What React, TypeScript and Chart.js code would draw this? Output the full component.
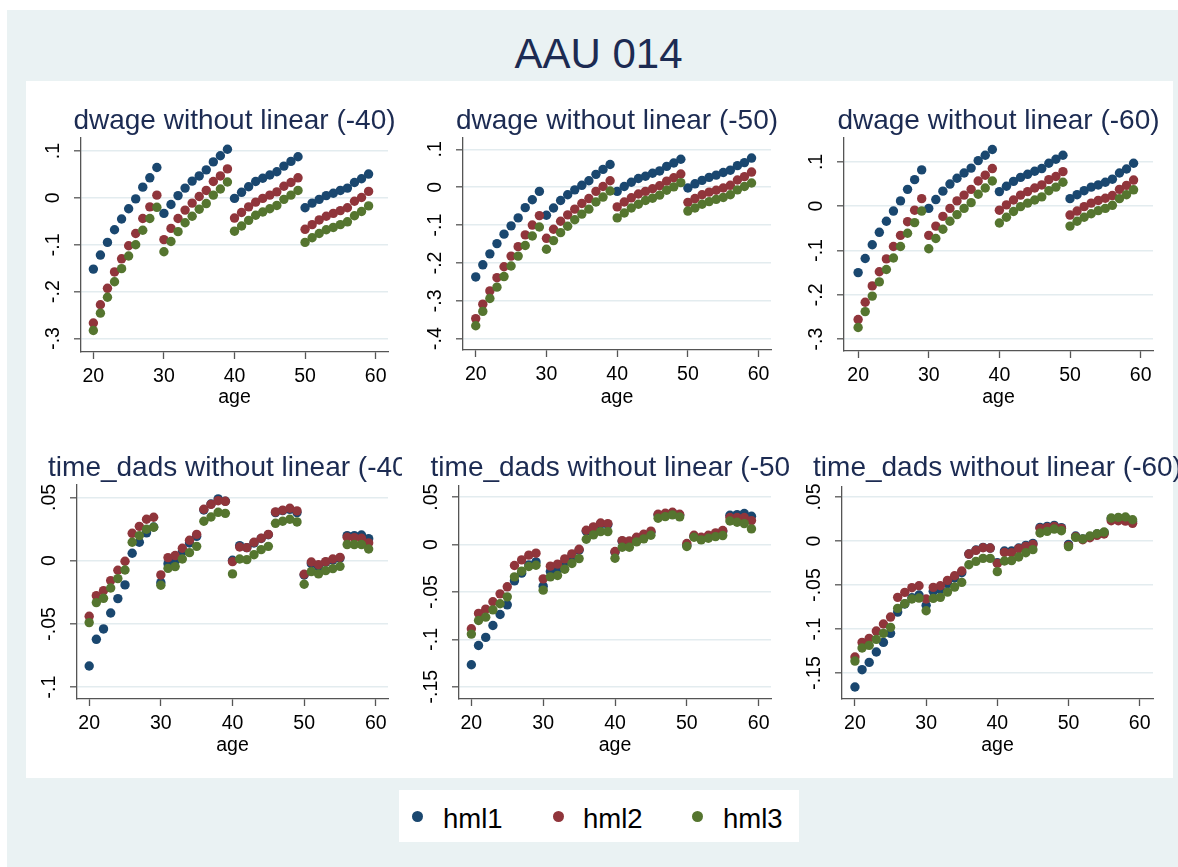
import React, { useEffect, useRef } from "react";
import { Chart, registerables } from "chart.js";

Chart.register(...registerables);

// ---------------- data ----------------
const ages = [20, 21, 22, 23, 24, 25, 26, 27, 28, 29, 30, 31, 32, 33, 34, 35, 36, 37, 38, 39, 40, 41, 42, 43, 44, 45, 46, 47, 48, 49, 50, 51, 52, 53, 54, 55, 56, 57, 58, 59];
const seriesNames = ["hml1", "hml2", "hml3"];
const xTicks = [20, 30, 40, 50, 60];

const dwage40_h1 = [-0.152, -0.122, -0.095, -0.068, -0.045, -0.023, -0.002, 0.023, 0.043, 0.065, -0.033, -0.014, 0.005, 0.021, 0.036, 0.047, 0.060, 0.077, 0.090, 0.104, -0.001, 0.012, 0.024, 0.035, 0.042, 0.049, 0.056, 0.068, 0.078, 0.088, -0.021, -0.011, -0.003, 0.005, 0.010, 0.016, 0.021, 0.033, 0.041, 0.051];
const dwage40_h2 = [-0.267, -0.228, -0.193, -0.158, -0.130, -0.102, -0.076, -0.044, -0.019, 0.006, -0.089, -0.065, -0.044, -0.026, -0.011, 0.003, 0.016, 0.035, 0.047, 0.062, -0.043, -0.031, -0.019, -0.009, -0.001, 0.006, 0.013, 0.025, 0.033, 0.043, -0.067, -0.057, -0.047, -0.039, -0.033, -0.027, -0.021, -0.007, 0.001, 0.014];
const dwage40_h3 = [-0.283, -0.246, -0.212, -0.179, -0.151, -0.124, -0.100, -0.069, -0.044, -0.020, -0.115, -0.093, -0.072, -0.053, -0.039, -0.024, -0.012, 0.006, 0.019, 0.034, -0.071, -0.060, -0.048, -0.037, -0.030, -0.023, -0.016, -0.003, 0.006, 0.016, -0.095, -0.085, -0.076, -0.068, -0.063, -0.057, -0.051, -0.038, -0.029, -0.017];

const dwage50_h1 = [-0.237, -0.205, -0.176, -0.149, -0.124, -0.102, -0.081, -0.054, -0.033, -0.011, -0.074, -0.055, -0.035, -0.020, -0.007, 0.005, 0.017, 0.034, 0.047, 0.060, -0.011, 0.002, 0.013, 0.023, 0.029, 0.037, 0.043, 0.055, 0.064, 0.074, -0.002, 0.009, 0.018, 0.026, 0.032, 0.039, 0.045, 0.057, 0.065, 0.077];
const dwage50_h2 = [-0.347, -0.309, -0.274, -0.239, -0.210, -0.182, -0.157, -0.126, -0.100, -0.075, -0.135, -0.111, -0.090, -0.073, -0.058, -0.043, -0.030, -0.011, 0.002, 0.017, -0.052, -0.039, -0.028, -0.018, -0.011, -0.004, 0.004, 0.016, 0.025, 0.035, -0.040, -0.030, -0.020, -0.013, -0.008, -0.002, 0.005, 0.019, 0.028, 0.040];
const dwage50_h3 = [-0.366, -0.328, -0.294, -0.264, -0.236, -0.208, -0.182, -0.154, -0.129, -0.105, -0.164, -0.141, -0.120, -0.103, -0.086, -0.071, -0.058, -0.039, -0.026, -0.010, -0.081, -0.068, -0.055, -0.045, -0.035, -0.029, -0.021, -0.008, 0.001, 0.012, -0.063, -0.055, -0.045, -0.038, -0.032, -0.027, -0.020, -0.007, 0.002, 0.011];

const dwage60_h1 = [-0.150, -0.118, -0.087, -0.059, -0.034, -0.011, 0.012, 0.038, 0.060, 0.082, -0.005, 0.015, 0.034, 0.050, 0.063, 0.075, 0.086, 0.103, 0.115, 0.128, 0.033, 0.045, 0.056, 0.065, 0.072, 0.079, 0.085, 0.097, 0.106, 0.115, 0.017, 0.026, 0.035, 0.043, 0.048, 0.054, 0.061, 0.075, 0.084, 0.097];
const dwage60_h2 = [-0.256, -0.217, -0.180, -0.148, -0.119, -0.091, -0.066, -0.035, -0.009, 0.017, -0.066, -0.045, -0.023, -0.005, 0.012, 0.025, 0.038, 0.057, 0.070, 0.085, -0.009, 0.003, 0.014, 0.025, 0.033, 0.041, 0.048, 0.060, 0.067, 0.078, -0.020, -0.011, -0.001, 0.007, 0.013, 0.018, 0.024, 0.038, 0.047, 0.059];
const dwage60_h3 = [-0.274, -0.238, -0.203, -0.171, -0.143, -0.117, -0.091, -0.061, -0.037, -0.011, -0.096, -0.073, -0.052, -0.034, -0.019, -0.005, 0.008, 0.027, 0.041, 0.057, -0.038, -0.025, -0.012, -0.001, 0.007, 0.014, 0.021, 0.035, 0.043, 0.054, -0.045, -0.034, -0.025, -0.017, -0.010, -0.005, 0.002, 0.017, 0.026, 0.037];

const time40_h1 = [-0.0833, -0.0622, -0.0540, -0.0414, -0.0300, -0.0192, 0.0058, 0.0145, 0.0220, 0.0266, -0.0174, -0.0024, -0.0003, 0.0071, 0.0140, 0.0192, 0.0400, 0.0448, 0.0488, 0.0470, 0.0003, 0.0119, 0.0103, 0.0140, 0.0175, 0.0205, 0.0380, 0.0395, 0.0405, 0.0380, -0.0113, -0.0024, -0.0047, -0.0013, 0.0005, 0.0020, 0.0198, 0.0198, 0.0203, 0.0174];
const time40_h2 = [-0.0440, -0.0277, -0.0237, -0.0158, -0.0076, -0.0005, 0.0216, 0.0271, 0.0327, 0.0343, -0.0113, 0.0024, 0.0040, 0.0098, 0.0161, 0.0208, 0.0406, 0.0445, 0.0474, 0.0469, -0.0008, 0.0108, 0.0103, 0.0145, 0.0177, 0.0208, 0.0385, 0.0398, 0.0414, 0.0393, -0.0108, -0.0011, -0.0032, -0.0008, 0.0013, 0.0026, 0.0185, 0.0182, 0.0177, 0.0140];
const time40_h3 = [-0.0490, -0.0332, -0.0298, -0.0216, -0.0142, -0.0074, 0.0145, 0.0198, 0.0248, 0.0264, -0.0195, -0.0061, -0.0047, 0.0013, 0.0063, 0.0113, 0.0311, 0.0345, 0.0382, 0.0374, -0.0105, 0.0013, 0.0008, 0.0047, 0.0087, 0.0113, 0.0295, 0.0311, 0.0327, 0.0306, -0.0187, -0.0087, -0.0105, -0.0079, -0.0063, -0.0045, 0.0127, 0.0127, 0.0127, 0.0092];

const time50_h1 = [-0.1268, -0.1065, -0.0980, -0.0854, -0.0738, -0.0636, -0.0383, -0.0302, -0.0214, -0.0183, -0.0439, -0.0285, -0.0267, -0.0183, -0.0119, -0.0060, 0.0141, 0.0179, 0.0218, 0.0211, -0.0081, 0.0035, 0.0028, 0.0067, 0.0098, 0.0130, 0.0313, 0.0323, 0.0334, 0.0309, -0.0011, 0.0088, 0.0063, 0.0081, 0.0109, 0.0137, 0.0309, 0.0316, 0.0327, 0.0299];
const time50_h2 = [-0.0889, -0.0727, -0.0682, -0.0604, -0.0520, -0.0446, -0.0221, -0.0162, -0.0112, -0.0091, -0.0362, -0.0228, -0.0207, -0.0151, -0.0098, -0.0049, 0.0151, 0.0186, 0.0228, 0.0221, -0.0074, 0.0042, 0.0039, 0.0077, 0.0109, 0.0141, 0.0320, 0.0330, 0.0341, 0.0320, 0.0011, 0.0098, 0.0077, 0.0098, 0.0123, 0.0148, 0.0285, 0.0285, 0.0285, 0.0253];
const time50_h3 = [-0.0945, -0.0801, -0.0766, -0.0689, -0.0625, -0.0552, -0.0341, -0.0281, -0.0232, -0.0218, -0.0481, -0.0341, -0.0327, -0.0260, -0.0200, -0.0148, 0.0056, 0.0102, 0.0137, 0.0137, -0.0144, -0.0028, -0.0028, 0.0028, 0.0060, 0.0098, 0.0278, 0.0295, 0.0313, 0.0292, -0.0021, 0.0077, 0.0049, 0.0067, 0.0084, 0.0095, 0.0249, 0.0235, 0.0221, 0.0165];

const time60_h1 = [-0.1659, -0.1462, -0.1379, -0.1261, -0.1152, -0.1049, -0.0807, -0.0716, -0.0644, -0.0614, -0.0731, -0.0572, -0.0553, -0.0485, -0.0420, -0.0360, -0.0148, -0.0102, -0.0072, -0.0080, -0.0246, -0.0114, -0.0114, -0.0080, -0.0049, -0.0027, 0.0155, 0.0167, 0.0178, 0.0152, -0.0038, 0.0057, 0.0023, 0.0049, 0.0080, 0.0095, 0.0254, 0.0258, 0.0265, 0.0223];
const time60_h2 = [-0.1318, -0.1152, -0.1106, -0.1023, -0.0943, -0.0864, -0.0640, -0.0583, -0.0530, -0.0508, -0.0659, -0.0527, -0.0508, -0.0447, -0.0394, -0.0341, -0.0148, -0.0106, -0.0076, -0.0080, -0.0254, -0.0129, -0.0133, -0.0087, -0.0061, -0.0038, 0.0144, 0.0155, 0.0167, 0.0144, -0.0053, 0.0049, 0.0015, 0.0038, 0.0064, 0.0080, 0.0231, 0.0231, 0.0227, 0.0201];
const time60_h3 = [-0.1364, -0.1216, -0.1186, -0.1117, -0.1049, -0.0981, -0.0765, -0.0712, -0.0659, -0.0648, -0.0792, -0.0652, -0.0640, -0.0580, -0.0523, -0.0470, -0.0269, -0.0231, -0.0197, -0.0197, -0.0348, -0.0227, -0.0223, -0.0182, -0.0133, -0.0098, 0.0091, 0.0110, 0.0136, 0.0117, -0.0064, 0.0042, 0.0023, 0.0057, 0.0083, 0.0102, 0.0261, 0.0269, 0.0273, 0.0242];

const dwageTicks = [0.1, 0, -0.1, -0.2, -0.3];
const dwageTickLabels = [".1", "0", "-.1", "-.2", "-.3"];
const dwage50Ticks = [0.1, 0, -0.1, -0.2, -0.3, -0.4];
const dwage50TickLabels = [".1", "0", "-.1", "-.2", "-.3", "-.4"];
const time40Ticks = [0.05, 0, -0.05, -0.1];
const time40TickLabels = [".05", "0", "-.05", "-.1"];
const timeTicks = [0.05, 0, -0.05, -0.1, -0.15];
const timeTickLabels = [".05", "0", "-.05", "-.1", "-.15"];

// ---------------- styling ----------------
const FONT = '"Liberation Sans", Arial, Helvetica, sans-serif';
const COLORS = ["#1a476f", "#90353b", "#55752f"];
const BG = "#eaf2f3";
const GRID = "#e3ecef";
const AXIS = "#555555";
const TITLE_COLOR = "#1c2b52";

const panels = [
  { title: "dwage without linear (-40)", series: [dwage40_h1, dwage40_h2, dwage40_h3], yTicks: dwageTicks, yLabels: dwageTickLabels, yMin: -0.329, yMax: 0.128, xMin: 18.25, xMax: 61.75, box: { x: 26, y: 81, w: 376, h: 349 }, plot: { l: 55, r: 14, t: 57, b: 78 }, titleY: 48 },
  { title: "dwage without linear (-50)", series: [dwage50_h1, dwage50_h2, dwage50_h3], yTicks: dwage50Ticks, yLabels: dwage50TickLabels, yMin: -0.43, yMax: 0.13, xMin: 18.2, xMax: 61.75, box: { x: 402, y: 81, w: 388, h: 349 }, plot: { l: 61, r: 19, t: 57, b: 80 }, titleY: 48 },
  { title: "dwage without linear (-60)", series: [dwage60_h1, dwage60_h2, dwage60_h3], yTicks: dwageTicks, yLabels: dwageTickLabels, yMin: -0.327, yMax: 0.154, xMin: 18.0, xMax: 61.75, box: { x: 790, y: 81, w: 388, h: 349 }, plot: { l: 54, r: 25, t: 57, b: 79 }, titleY: 48 },
  { title: "time_dads without linear (-40)", series: [time40_h1, time40_h2, time40_h3], yTicks: time40Ticks, yLabels: time40TickLabels, yMin: -0.1094, yMax: 0.0598, xMin: 18.3, xMax: 61.7, box: { x: 26, y: 430, w: 376, h: 348 }, plot: { l: 51, r: 14, t: 55, b: 79 }, titleY: 46 },
  { title: "time_dads without linear (-50)", series: [time50_h1, time50_h2, time50_h3], yTicks: timeTicks, yLabels: timeTickLabels, yMin: -0.163, yMax: 0.0618, xMin: 18.28, xMax: 61.72, box: { x: 402, y: 430, w: 388, h: 348 }, plot: { l: 57, r: 19, t: 56, b: 79 }, titleY: 46 },
  { title: "time_dads without linear (-60)", series: [time60_h1, time60_h2, time60_h3], yTicks: timeTicks, yLabels: timeTickLabels, yMin: -0.1795, yMax: 0.0614, xMin: 18.18, xMax: 61.87, box: { x: 790, y: 430, w: 388, h: 348 }, plot: { l: 52, r: 25, t: 57, b: 79 }, titleY: 46 },
];

const stataText = {
  id: "stataText",
  afterDraw(chart: any, _args: any, opts: any) {
    const { ctx, chartArea, scales } = chart;
    ctx.save();
    ctx.font = `28px ${FONT}`;
    ctx.fillStyle = TITLE_COLOR;
    ctx.textAlign = "center";
    ctx.textBaseline = "alphabetic";
    ctx.fillText(opts.title, (chartArea.left + chartArea.right) / 2, opts.titleY);
    ctx.font = `19.5px ${FONT}`;
    ctx.fillStyle = "#000";
    opts.yTicks.forEach((v: number, i: number) => {
      const y = scales.y.getPixelForValue(v);
      ctx.save();
      ctx.translate(chartArea.left - 22, y);
      ctx.rotate(-Math.PI / 2);
      ctx.fillText(opts.yLabels[i], 0, 0);
      ctx.restore();
    });
    ctx.restore();
  },
};

function Panel({ p }: { p: any }) {
  const ref = useRef<HTMLCanvasElement>(null);
  useEffect(() => {
    if (!ref.current) return;
    const datasets = p.series.map((vals: number[], si: number) => ({
      label: seriesNames[si],
      data: ages.map((a, i) => ({ x: a, y: vals[i] })),
      backgroundColor: COLORS[si],
      borderColor: COLORS[si],
      borderWidth: 0,
      pointRadius: 4.7,
      pointHoverRadius: 4.7,
      order: 2 - si,
    }));
    const chart = new Chart(ref.current, {
      type: "scatter",
      data: { datasets },
      plugins: [stataText],
      options: {
        animation: false,
        responsive: false,
        maintainAspectRatio: false,
        events: [],
        layout: { padding: { top: p.plot.t, right: p.plot.r, left: 0, bottom: 0 } },
        plugins: {
          legend: { display: false },
          tooltip: { enabled: false },
          stataText: { title: p.title, titleY: p.titleY, yTicks: p.yTicks, yLabels: p.yLabels },
        } as any,
        scales: {
          x: {
            type: "linear",
            min: p.xMin,
            max: p.xMax,
            afterBuildTicks: (s: any) => {
              s.ticks = xTicks.map((v) => ({ value: v }));
            },
            afterFit: (s: any) => {
              s.height = p.plot.b;
            },
            grid: { drawOnChartArea: false, drawTicks: true, tickLength: 7, tickColor: AXIS, tickWidth: 1.3 },
            border: { display: true, color: AXIS, width: 1.3 },
            ticks: { font: { size: 19.5, family: FONT }, color: "#000", padding: 6, maxRotation: 0, minRotation: 0, autoSkip: false, callback: (v: any) => String(v) },
            title: { display: true, text: "age", font: { size: 19.5, family: FONT }, color: "#000", padding: { top: 0, bottom: 21 } },
          },
          y: {
            type: "linear",
            min: p.yMin,
            max: p.yMax,
            afterBuildTicks: (s: any) => {
              s.ticks = p.yTicks.map((v: number) => ({ value: v }));
            },
            afterFit: (s: any) => {
              s.width = p.plot.l;
            },
            grid: { color: GRID, lineWidth: 1.6, drawTicks: true, tickLength: 7, tickColor: AXIS, tickWidth: 1.3 },
            border: { display: true, color: AXIS, width: 1.3 },
            ticks: { display: false },
          },
        },
      } as any,
    });
    return () => chart.destroy();
  }, [p]);
  return (
    <canvas
      ref={ref}
      width={p.box.w}
      height={p.box.h}
      style={{ position: "absolute", left: p.box.x, top: p.box.y, width: p.box.w, height: p.box.h }}
    />
  );
}

const legendItems = [
  { dot: 417, text: 443 },
  { dot: 558, text: 583 },
  { dot: 697, text: 723 },
];

export default function App() {
  return (
    <div style={{ position: "absolute", left: 0, top: 0, width: 1178, height: 867, background: "#fff", overflow: "hidden", fontFamily: FONT }}>
      <div style={{ position: "absolute", left: 7, top: 10, width: 1171, height: 857, background: BG }} />
      <div style={{ position: "absolute", left: 26, top: 81, width: 1147, height: 697, background: "#fff" }} />
      <div style={{ position: "absolute", left: 298.5, top: 32.5, width: 600, height: 42, lineHeight: "42px", fontSize: 42, textAlign: "center", color: TITLE_COLOR, whiteSpace: "nowrap" }}>
        AAU 014
      </div>
      {panels.map((p, i) => (
        <Panel key={i} p={p} />
      ))}
      <div style={{ position: "absolute", left: 399, top: 790, width: 400, height: 52, background: "#fff" }} />
      {legendItems.map((it, i) => (
        <React.Fragment key={i}>
          <div style={{ position: "absolute", left: it.dot - 5.5, top: 816 - 5.5, width: 11, height: 11, borderRadius: "50%", background: COLORS[i] }} />
          <div style={{ position: "absolute", left: it.text, top: 805, height: 27, lineHeight: "27px", fontSize: 27.5, color: "#000", whiteSpace: "nowrap" }}>
            {seriesNames[i]}
          </div>
        </React.Fragment>
      ))}
    </div>
  );
}
